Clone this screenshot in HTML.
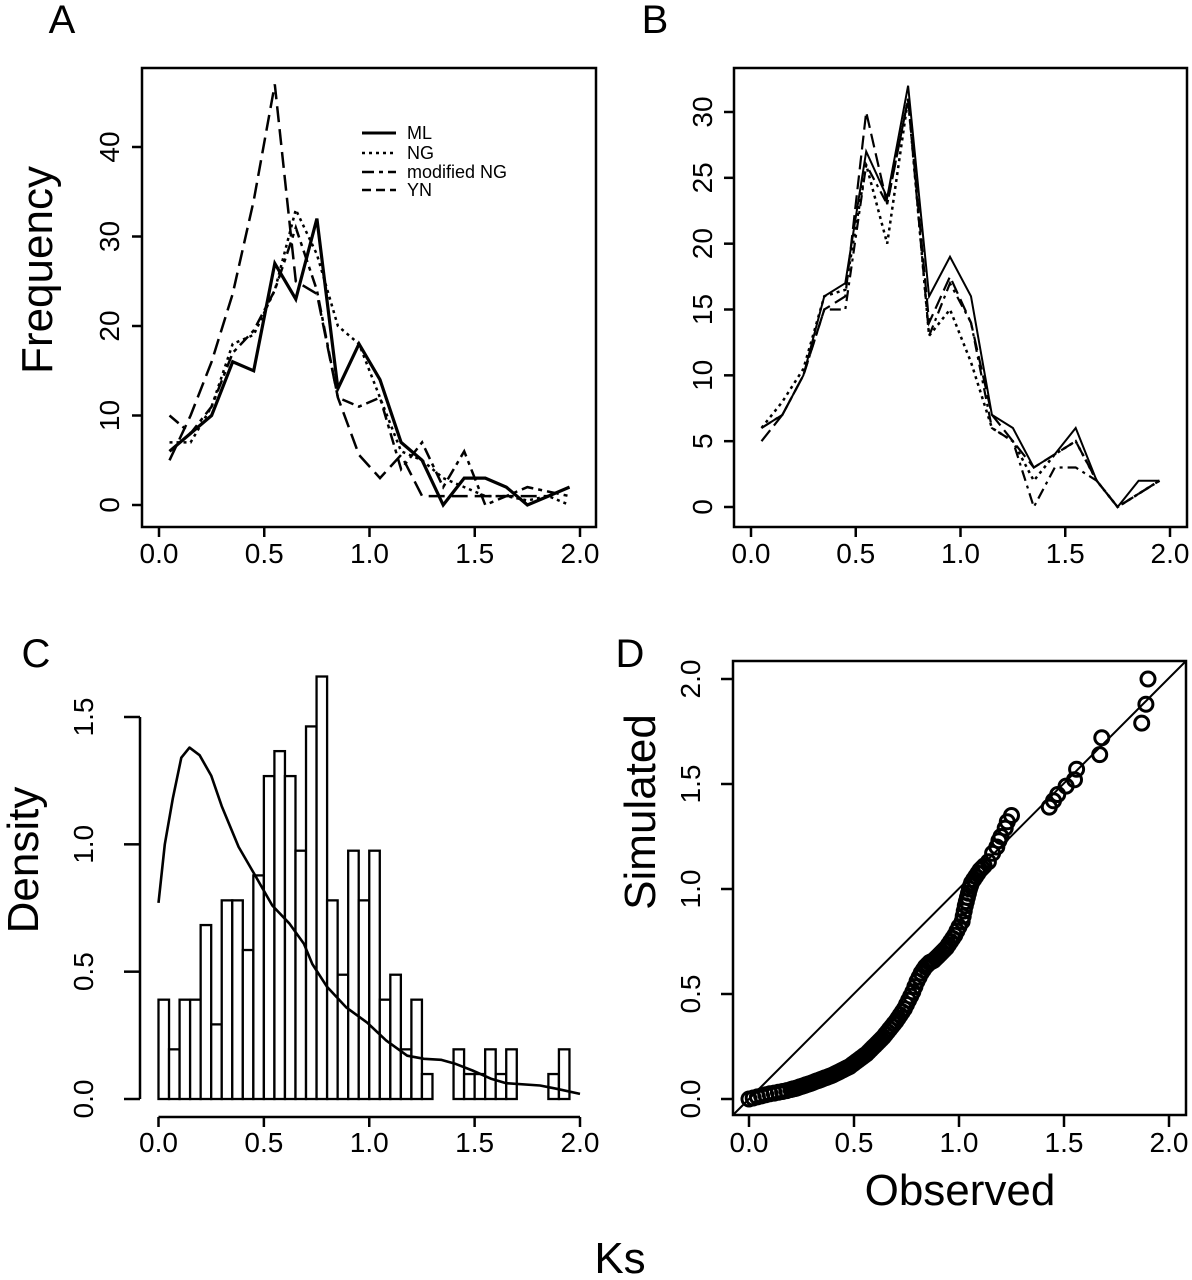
<!DOCTYPE html>
<html><head><meta charset="utf-8"><style>
html,body{margin:0;padding:0;background:#fff;}
svg{display:block;font-family:"Liberation Sans",Arial,sans-serif;}
</style></head><body>
<svg id="fig" width="1192" height="1280" viewBox="0 0 1192 1280" xmlns="http://www.w3.org/2000/svg">
<text x="62" y="33" font-size="40" text-anchor="middle">A</text>
<text x="655" y="33" font-size="40" text-anchor="middle">B</text>
<text x="36" y="667" font-size="40" text-anchor="middle">C</text>
<text x="630" y="667" font-size="40" text-anchor="middle">D</text>
<text transform="translate(52,270) rotate(-90)" font-size="44" text-anchor="middle">Frequency</text>
<text transform="translate(38,860) rotate(-90)" font-size="44" text-anchor="middle">Density</text>
<text transform="translate(655,812) rotate(-90)" font-size="44" text-anchor="middle">Simulated</text>
<text x="960" y="1205" font-size="44" text-anchor="middle">Observed</text>
<text x="620" y="1273" font-size="44" text-anchor="middle">Ks</text>
<g font-size="18">
<line x1="362" y1="133" x2="396" y2="133" stroke="#000" stroke-width="3"/>
<text x="407" y="139">ML</text>
<line x1="362" y1="153" x2="396" y2="153" stroke="#000" stroke-width="2.5" stroke-dasharray="3 4"/>
<text x="407" y="159">NG</text>
<line x1="362" y1="172" x2="396" y2="172" stroke="#000" stroke-width="2.5" stroke-dasharray="12 5 4 5"/>
<text x="407" y="178">modified NG</text>
<line x1="362" y1="190" x2="396" y2="190" stroke="#000" stroke-width="2.5" stroke-dasharray="9 5"/>
<text x="407" y="196">YN</text>
</g>
</svg>
<script>
// ---------- data ----------
const binMids = [0.05,0.15,0.25,0.35,0.45,0.55,0.65,0.75,0.85,0.95,1.05,1.15,1.25,1.35,1.45,1.55,1.65,1.75,1.85,1.95];
const aML  = [6,8,10,16,15,27,23,32,13,18,14,7,5,0,3,3,2,0,1,2];
const aNG  = [7,7,11,18,19,24,33,28,20,18,12,6,5,3,2,1,1,0.5,1,0];
const aMod = [10,8,11,17,19.5,24,31,24,12,11,12,4,7,2,6,0,1,2,1.5,1];
const aYN  = [5,10,16,23.6,34,47,25,23.6,12,5.6,3,5.6,1,1,1,1,1,1,1,2];
const bML  = [6,7,10,16,17,27,23.5,32,16,19,16,7,6,3,4,6,2,0,2,2];
const bNG  = [6,8,10.5,16,16.5,26,20,31,13,15,11,6,5,2,4,5,2,0,1,2];
const bMod = [6,7,10,15,15,26,23,31,13,17,14,6,5,0,3,3,2,0,1,2];
const bYN  = [5,7,10,15,16,30,23,31,14,17.5,14,7,5,3,4,5,2,0,1,2];
const aYTicks = [0,10,20,30,40];
const bYTicks = [0,5,10,15,20,25,30];
const xTicks = [0,0.5,1,1.5,2];
const xTickLabels = ["0.0","0.5","1.0","1.5","2.0"];
const cYTicks = [0,0.5,1,1.5];
const cYTickLabels = ["0.0","0.5","1.0","1.5"];
const histDensity = [0.39,0.195,0.39,0.39,0.683,0.293,0.78,0.78,0.585,0.878,1.268,1.366,1.268,0.975,1.463,1.659,0.78,0.488,0.975,0.78,0.975,0.39,0.488,0.195,0.39,0.098,0,0,0.195,0.098,0.098,0.195,0.098,0.195,0,0,0,0.098,0.195];
const densX = [0,0.03,0.068,0.108,0.147,0.195,0.25,0.30,0.38,0.46,0.54,0.62,0.69,0.73,0.80,0.89,0.99,1.08,1.18,1.26,1.34,1.41,1.49,1.58,1.65,1.81,1.89,2.0];
const densY = [0.77,1.0,1.18,1.34,1.38,1.35,1.27,1.15,0.99,0.876,0.76,0.69,0.61,0.53,0.44,0.36,0.30,0.23,0.17,0.158,0.154,0.138,0.112,0.079,0.062,0.053,0.04,0.02];
const qqObs = [0,0.02,0.04,0.06,0.08,0.10,0.12,0.14,0.16,0.18,0.20,0.22,0.24,0.26,0.28,0.30,0.32,0.34,0.36,0.38,0.40,0.42,0.44,0.46,0.48,0.50,0.52,0.54,0.56,0.58,0.60,0.62,0.64,0.66,0.68,0.70,0.72,0.74,0.76,0.78,0.80,0.82,0.84,0.86,0.88,0.90,0.92,0.94,0.96,0.98,1.00,1.02,1.03,1.04,1.05,1.06,1.08,1.10,1.12,1.14,1.16,1.18,1.19,1.20,1.22,1.23,1.25,1.43,1.45,1.47,1.51,1.55,1.56,1.67,1.68,1.87,1.89,1.90,
  0.21,0.23,0.25,0.27,0.29,0.31,0.33,0.35,0.37,0.39,0.41,0.43,0.45,0.47,0.49,0.51,0.53,0.55,0.57,0.59,0.61,0.63,0.65,0.67,0.69,0.71,0.73,0.75,0.77,0.79,0.81,0.83,0.85,0.87,0.89,0.91,0.93,0.95,0.97,0.99,1.015,1.025,1.035,1.045,1.055,1.07,1.09,1.11];
const qqSim = [0,0.005,0.01,0.015,0.02,0.025,0.028,0.032,0.036,0.04,0.045,0.05,0.057,0.063,0.07,0.077,0.085,0.092,0.10,0.107,0.115,0.125,0.135,0.145,0.155,0.17,0.185,0.20,0.215,0.235,0.255,0.275,0.295,0.32,0.345,0.37,0.40,0.43,0.47,0.51,0.56,0.60,0.63,0.65,0.66,0.68,0.70,0.72,0.75,0.78,0.82,0.87,0.92,0.96,1.00,1.03,1.06,1.09,1.11,1.13,1.17,1.20,1.23,1.25,1.29,1.32,1.35,1.39,1.42,1.45,1.49,1.52,1.57,1.64,1.72,1.79,1.88,2.00,
  0.048,0.053,0.06,0.067,0.073,0.081,0.088,0.096,0.103,0.111,0.12,0.13,0.14,0.15,0.163,0.178,0.193,0.208,0.225,0.245,0.265,0.285,0.308,0.333,0.358,0.385,0.415,0.45,0.49,0.535,0.58,0.615,0.64,0.655,0.67,0.69,0.71,0.735,0.765,0.80,0.845,0.895,0.94,0.98,1.015,1.045,1.075,1.10];

// ---------- helpers ----------
const NS = "http://www.w3.org/2000/svg";
const svg = document.getElementById("fig");
function mk(tag, attrs, parent){
  const e = document.createElementNS(NS, tag);
  for (const k in attrs) e.setAttribute(k, attrs[k]);
  (parent||svg).appendChild(e);
  return e;
}
function lin(d0,d1,p0,p1){ return v => p0 + (v-d0)*(p1-p0)/(d1-d0); }
function xAxis(gp, ax, yTop, tickLen, labY, prefix){
  xTicks.forEach((t,i)=>{
    const l = mk("line",{x1:ax(t),x2:ax(t),y1:yTop,y2:yTop+tickLen,stroke:"#000","stroke-width":2.5},gp);
    
    
    const tx = mk("text",{x:ax(t),y:labY,"font-size":28,"text-anchor":"middle"},gp);
    tx.textContent = xTickLabels[i];
    
    
  });
}
function yAxis(gp, ay, ticks, labels, xLeft, tickLen, labX, prefix){
  ticks.forEach((t,i)=>{
    const l = mk("line",{x1:xLeft-tickLen,x2:xLeft,y1:ay(t),y2:ay(t),stroke:"#000","stroke-width":2.5},gp);
    
    
    const tx = mk("text",{transform:`translate(${labX},${ay(t)}) rotate(-90)`,"font-size":28,"text-anchor":"middle"},gp);
    tx.textContent = labels ? labels[i] : String(t);
    
    
  });
}
function series(gp, ax, ay, ys, dash, w, name){
  const pts = binMids.map((x,i)=>ax(x).toFixed(1)+","+ay(ys[i]).toFixed(1)).join(" ");
  const p = mk("polyline",{points:pts,fill:"none",stroke:"#000","stroke-width":w,"stroke-dasharray":dash,"stroke-linejoin":"miter"},gp);
  
  
}

// ---------- panel A ----------
const axA = lin(0,2,159,580), ayA = lin(0,40,505,147);
let g = mk("g",{});


let r = mk("rect",{x:142,y:68,width:454,height:459,fill:"none",stroke:"#000","stroke-width":2.5},g);


xAxis(g, axA, 527, 10, 563, 'panel-a');
yAxis(g, ayA, aYTicks, null, 142, 10, 119, 'panel-a');
series(g, axA, ayA, aYN, "16 7", 2.5, 'panel-a-yn-line');
series(g, axA, ayA, aMod, "12 5 4 5", 2.5, 'panel-a-modified-ng-line');
series(g, axA, ayA, aNG, "3 4", 2.5, 'panel-a-ng-line');
series(g, axA, ayA, aML, "none", 3.2, 'panel-a-ml-line');

// ---------- panel B ----------
const axB = lin(0,2,751,1170), ayB = lin(0,30,507,112);
g = mk("g",{});


r = mk("rect",{x:734,y:68,width:453,height:459,fill:"none",stroke:"#000","stroke-width":2.5},g);


xAxis(g, axB, 527, 10, 563, 'panel-b');
yAxis(g, ayB, bYTicks, null, 734, 10, 712, 'panel-b');
series(g, axB, ayB, bYN, "14 6", 2.2, 'panel-b-yn-line');
series(g, axB, ayB, bMod, "11 5 3 5", 2.2, 'panel-b-modified-ng-line');
series(g, axB, ayB, bNG, "3 4", 2.5, 'panel-b-ng-line');
series(g, axB, ayB, bML, "none", 2, 'panel-b-ml-line');

// ---------- panel C ----------
const axC = lin(0,2,158.5,580), ayC = lin(0,1.5,1099,717);
g = mk("g",{});


let al = mk("line",{x1:140,x2:140,y1:ayC(0),y2:ayC(1.5),stroke:"#000","stroke-width":2.5},g);


yAxis(g, ayC, cYTicks, cYTickLabels, 140, 16, 93, 'panel-c');
al = mk("line",{x1:axC(0),x2:axC(2),y1:1117,y2:1117,stroke:"#000","stroke-width":2.5},g);


xAxis(g, axC, 1117, 10, 1152, 'panel-c');
histDensity.forEach((d,i)=>{
  const x0 = axC(i*0.05), x1 = axC((i+1)*0.05);
  const b = mk("rect",{x:x0,y:ayC(d),width:x1-x0,height:ayC(0)-ayC(d),fill:"#fff",stroke:"#000","stroke-width":2.3},g);
  
  
});
const dp = mk("polyline",{points:densX.map((x,i)=>axC(x).toFixed(1)+","+ayC(densY[i]).toFixed(1)).join(" "),fill:"none",stroke:"#000","stroke-width":2.6,"stroke-linejoin":"round"},g);



// ---------- panel D ----------
const axD = lin(0,2,749,1169), ayD = lin(0,2,1099,679);
g = mk("g",{});


r = mk("rect",{x:733,y:661,width:453,height:454,fill:"none",stroke:"#000","stroke-width":2.5},g);


xAxis(g, axD, 1115, 12, 1152, 'panel-d');
yAxis(g, ayD, xTicks, xTickLabels, 733, 12, 700, 'panel-d');
const diag = mk("line",{x1:733,y1:1115,x2:1186,y2:661,stroke:"#000","stroke-width":2},g);


qqObs.forEach((o,i)=>{
  const c = mk("circle",{cx:axD(o),cy:ayD(qqSim[i]),r:7,fill:"none",stroke:"#000","stroke-width":3},g);
  
  
});
</script>
</body></html>
